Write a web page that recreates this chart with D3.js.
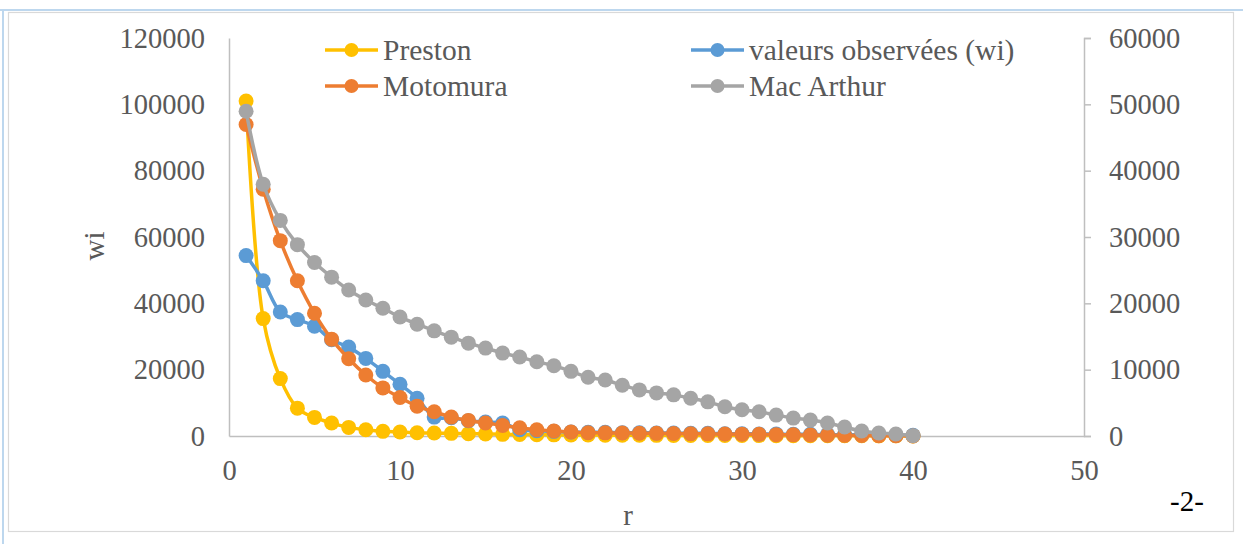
<!DOCTYPE html>
<html><head><meta charset="utf-8">
<script src="https://cdn.jsdelivr.net/npm/d3@7"></script>
<style>
html,body{margin:0;padding:0;background:#fff;}
svg{display:block;}
text{font-family:"Liberation Serif","Times New Roman",serif;}
</style></head>
<body>
<script>
const ranks = d3.range(1, 41);
const preston = [101000,35400,17300,8400,5600,3900,2600,1900,1400,1200,1000,900,800,700,600,500,450,400,350,300,280,260,240,220,200,180,160,150,140,130,120,110,100,90,80,70,60,50,40,30];
const observed = [54400,46800,37400,35100,33100,29000,26800,23400,19500,15600,11400,5700,5500,4600,4200,3900,1900,1600,1400,1200,1100,1100,1000,1000,900,900,800,800,700,700,600,600,500,500,400,400,300,300,200,200];
const motomura = [93900,74400,58900,46800,37000,29200,23300,18400,14500,11600,9000,7300,5700,4700,3900,3200,2500,1900,1500,1200,1000,950,900,850,800,750,700,650,600,550,500,400,350,300,250,200,150,100,60,30];
const macArthur = [97900,75900,65000,57700,52300,47900,44000,41000,38500,35900,33700,31700,29800,28000,26500,25000,23800,22400,21200,19500,17700,16900,15300,13900,13000,12400,11400,10300,8800,7900,7300,6300,5400,4800,3900,2700,1500,900,600,100];
const leftTicks = [0,20000,40000,60000,80000,100000,120000];
const rightTicks = [0,10000,20000,30000,40000,50000,60000];
const xTicks = [0,10,20,30,40,50];
const seriesNames = ["Preston","valeurs observées (wi)","Motomura","Mac Arthur"];
const seriesColors = ["#FFC000","#5B9BD5","#ED7D31","#A5A5A5"];
const seriesData = [preston, observed, motomura, macArthur];

const W = 1243, H = 544;
const svg = d3.select("body").append("svg").attr("width", W).attr("height", H);

// borders
svg.append("rect").attr("x",8.5).attr("y",12.5).attr("width",1225).attr("height",519)
  .attr("fill","none").attr("stroke","#d9d9d9").attr("stroke-width",1.2);
svg.append("line").attr("x1",0).attr("x2",W).attr("y1",10).attr("y2",10).attr("stroke","#bdd7ee").attr("stroke-width",2);
svg.append("line").attr("x1",3).attr("x2",3).attr("y1",10).attr("y2",H).attr("stroke","#bdd7ee").attr("stroke-width",2);

const x = d3.scaleLinear().domain([0,50]).range([229,1084]);
const yL = d3.scaleLinear().domain([0,120000]).range([436,38]);
const yR = d3.scaleLinear().domain([0,60000]).range([436,38]);
const axisColor = "#bfbfbf", textColor = "#595959";
const FONT = "Liberation Serif";

// x axis
const gx = svg.append("g").attr("transform","translate(0,436)")
  .call(d3.axisBottom(x).tickValues(xTicks).tickSize(0).tickPadding(24).tickFormat(d3.format("d")));
gx.select(".domain").attr("stroke",axisColor).attr("stroke-width",1.5);
gx.selectAll("text").attr("fill",textColor).attr("font-size",28.5).attr("font-family",FONT);

// left axis
const gl = svg.append("g").attr("transform","translate(229,0)")
  .call(d3.axisLeft(yL).tickValues(leftTicks).tickSize(0).tickPadding(24).tickFormat(d3.format("d")));
gl.select(".domain").attr("stroke",axisColor).attr("stroke-width",1.5);
gl.selectAll("text").attr("fill",textColor).attr("font-size",28.5).attr("font-family",FONT);

// right axis
const gr = svg.append("g").attr("transform","translate(1084,0)")
  .call(d3.axisRight(yR).tickValues(rightTicks).tickSize(7).tickSizeOuter(7).tickPadding(18).tickFormat(d3.format("d")));
gr.select(".domain").attr("stroke",axisColor).attr("stroke-width",1.5);
gr.selectAll(".tick line").attr("stroke",axisColor).attr("stroke-width",1.5);
gr.selectAll("text").attr("fill",textColor).attr("font-size",28.5).attr("font-family",FONT);

// axis titles
svg.append("text").attr("x",628).attr("y",525).attr("text-anchor","middle").attr("font-family",FONT)
  .attr("fill",textColor).attr("font-size",29).text("r");
svg.append("text").attr("transform","translate(104,246) rotate(-90)").attr("text-anchor","middle").attr("font-family",FONT)
  .attr("fill",textColor).attr("font-size",29).text("wi");
svg.append("text").attr("x",1187).attr("y",511).attr("text-anchor","middle").attr("font-family",FONT)
  .attr("fill","#000").attr("font-size",29).text("-2-");

// series
const line = d3.line().x((d,i)=>x(ranks[i])).y(d=>yL(d)).curve(d3.curveCatmullRom.alpha(0.5));
seriesData.forEach((vals,k)=>{
  const g = svg.append("g");
  g.append("path").datum(vals).attr("d",line).attr("fill","none")
    .attr("stroke",seriesColors[k]).attr("stroke-width",3.5).attr("stroke-linejoin","round");
  g.selectAll("circle").data(vals).enter().append("circle")
    .attr("cx",(d,i)=>x(ranks[i])).attr("cy",d=>yL(d)).attr("r",7.5)
    .attr("fill",seriesColors[k]);
});

// legend
const legPos = [[325,50],[691,50],[325,86],[691,86]];
seriesNames.forEach((n,k)=>{
  const [lx,ly] = legPos[k];
  const g = svg.append("g");
  g.append("line").attr("x1",lx).attr("x2",lx+53).attr("y1",ly).attr("y2",ly)
    .attr("stroke",seriesColors[k]).attr("stroke-width",3.5);
  g.append("circle").attr("cx",lx+26.5).attr("cy",ly).attr("r",7).attr("fill",seriesColors[k]);
  g.append("text").attr("x",lx+58).attr("y",ly+10).attr("font-family",FONT)
    .attr("fill",textColor).attr("font-size",29.5).text(n);
});
</script>
</body></html>
